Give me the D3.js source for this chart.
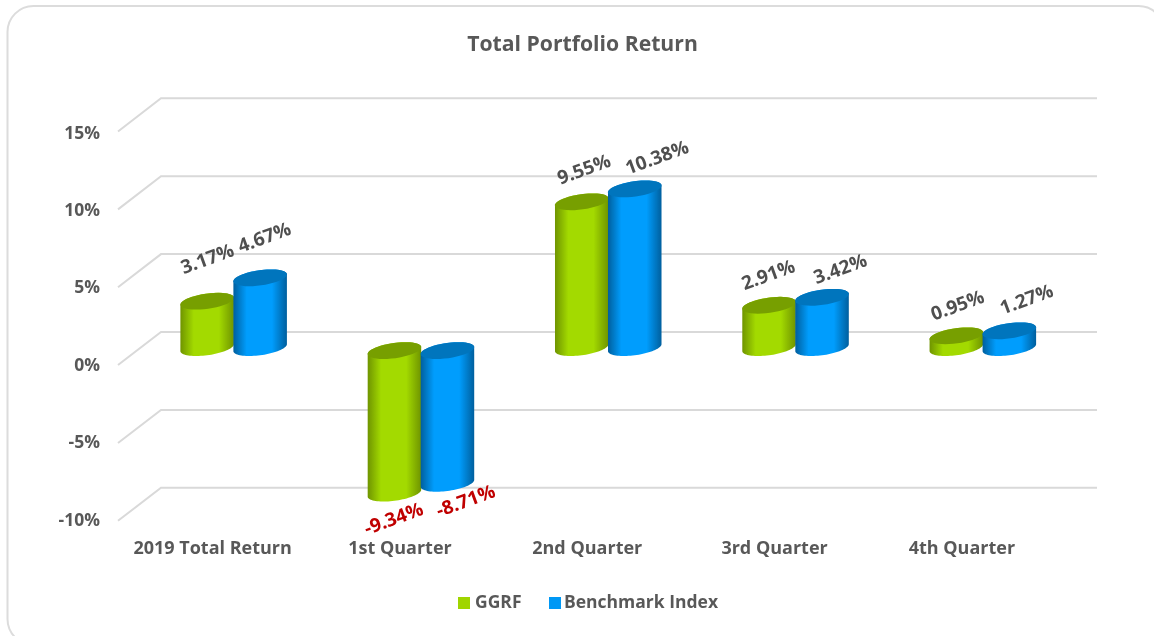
<!DOCTYPE html>
<html><head><meta charset="utf-8">
<script src="https://cdnjs.cloudflare.com/ajax/libs/d3/7.8.5/d3.min.js"></script>
<style>
html,body{margin:0;padding:0;background:#fff;overflow:hidden}
svg{display:block}
text{font-family:"Open Sans",sans-serif;font-weight:700;fill:#595959}
</style></head><body>
<script>
const categories=["2019 Total Return","1st Quarter","2nd Quarter","3rd Quarter","4th Quarter"];
const seriesNames=["GGRF","Benchmark Index"];
const ggrf=[3.17,-9.34,9.55,2.91,0.95];
const benchmark=[4.67,-8.71,10.38,3.42,1.27];
const yTicks=[-10,-5,0,5,10,15];

const W=1154,H=636;
const svg=d3.select("body").append("svg").attr("width",W).attr("height",H);
const defs=svg.append("defs");
defs.append("filter").attr("id","soft").attr("filterUnits","userSpaceOnUse").attr("x",0).attr("y",0).attr("width",W).attr("height",H)
  .append("feGaussianBlur").attr("stdDeviation",0.45);
const palette=[
 {edge:"#6f9400",mid:"#a3da00",top:"#779f00",key:"#a0d500"},
 {edge:"#005f9e",mid:"#009dfd",top:"#0075bd",key:"#0098f5"}];
palette.forEach((p,i)=>{
  const g=defs.append("linearGradient").attr("id","body"+i).attr("x1",0).attr("x2",1).attr("y1",0).attr("y2",0);
  [[0,p.edge],[.25,p.mid],[.72,p.mid],[1,p.edge]].forEach(s=>g.append("stop").attr("offset",s[0]).attr("stop-color",s[1]));
});
const root=svg.append("g").attr("filter","url(#soft)");

// frame (its right and bottom sides run past the window)
root.append("rect").attr("x",7.5).attr("y",6).attr("width",1157).attr("height",639).attr("rx",26)
 .attr("fill","#fff").attr("stroke","#dcdcdc").attr("stroke-width",2);

// scales
const yBack=d3.scaleLinear().domain([-10,15]).range([487.8,98.3]);
const yFront=d3.scaleLinear().domain([-10,15]).range([520.8,131.5]);
const yBar=d3.scaleLinear().domain([-10,15]).range([506.4,116.9]);
const yLab=d3.scaleLinear().domain([-10,15]).range([519.5,132.5]);
const xCat=d3.scaleBand().domain(categories).range([140,1076.5]);
const xSer=d3.scaleBand().domain([0,1]).range([-53,53]);
const backL=161,backR=1097,frontL=118;

// gridlines
const grid=root.append("g").attr("fill","none").attr("stroke","#d9d9d9").attr("stroke-width",2);
grid.selectAll("path").data(yTicks).join("path")
 .attr("d",t=>`M${frontL},${yFront(t)}L${backL},${yBack(t)}L${backR},${yBack(t)}`);

// y axis labels
const yAxis=root.append("g").attr("transform","translate(100,0)")
 .call(d3.axisLeft(yLab).tickValues(yTicks).tickSize(0).tickPadding(0).tickFormat(d=>d+"%"));
yAxis.select(".domain").remove();
yAxis.selectAll("text").attr("font-size",17.5).style("font-family",'"Open Sans",sans-serif').style("font-weight",700).style("fill","#595959");

// category labels
const xAxis=root.append("g").attr("transform","translate(-21,541)")
 .call(d3.axisBottom(xCat).tickSize(0).tickPadding(0));
xAxis.select(".domain").remove();
xAxis.selectAll("text").attr("font-size",18).attr("dy",".71em").style("font-family",'"Open Sans",sans-serif').style("font-weight",700).style("fill","#595959");

// cylinders
const rx=27,ry=7.6,tilt=-8*Math.PI/180,baseInset=3;
const t0=Math.atan2(-ry*Math.sin(tilt),rx*Math.cos(tilt));
function rim(cx,cy,from,to){
  return d3.range(0,41).map(k=>{
    const t=from+(to-from)*k/40;
    return [cx+rx*Math.cos(t)*Math.cos(tilt)-ry*Math.sin(t)*Math.sin(tilt),
            cy+rx*Math.cos(t)*Math.sin(tilt)+ry*Math.sin(t)*Math.cos(tilt)];
  });
}
const line=d3.line();
function cyl(g,cx,yA,yB,i){
  const top=Math.min(yA,yB),bot=Math.max(yA,yB)-baseInset;
  const pts=rim(cx,bot,t0,t0+Math.PI).concat(rim(cx,top,t0+Math.PI,t0+2*Math.PI));
  g.append("path").attr("fill",`url(#body${i})`).attr("d",line(pts)+"Z");
  g.append("path").attr("fill",palette[i].top).attr("d",line(rim(cx,top,0,2*Math.PI))+"Z");
}
const series=[ggrf,benchmark];
const barX=(c,si)=>xCat(c)+xCat.bandwidth()/2+xSer(si)+xSer.bandwidth()/2;
const bars=root.append("g");
categories.forEach((c,ci)=>{
  series.forEach((vals,si)=>cyl(bars.append("g"),barX(c,si),yBar(vals[ci]),yBar(0),si));
});

// data labels, with the hand nudges seen in the picture
const nudge=[[[0,-43],[4,-41]],[[-1,22],[18,14]],[[2,-33],[22,-32]],[[-1,-31],[18,-29]],[[1,-31],[17,-32]]];
const dl=root.append("g");
categories.forEach((c,ci)=>{
  series.forEach((vals,si)=>{
    const v=vals[ci];
    const [dx,dy]=nudge[ci][si];
    dl.append("text").attr("text-anchor","middle").attr("dominant-baseline","central")
     .attr("transform",`translate(${barX(c,si)+dx},${yBar(v)+dy}) rotate(-20)`)
     .attr("font-size",19).style("fill",v<0?"#c00000":"#505050")
     .text(v.toFixed(2)+"%");
  });
});

// title
root.append("text").attr("x",582.5).attr("y",51).attr("text-anchor","middle").attr("font-size",21.2).text("Total Portfolio Return");

// legend
const lg=root.append("g");
const keyX=[458,549],labX=[475,564];
seriesNames.forEach((n,i)=>{
  lg.append("rect").attr("x",keyX[i]).attr("y",597).attr("width",12).attr("height",12).attr("fill",palette[i].key);
  lg.append("text").attr("x",labX[i]).attr("y",608).attr("font-size",17.5).text(n);
});
</script>
</body></html>
